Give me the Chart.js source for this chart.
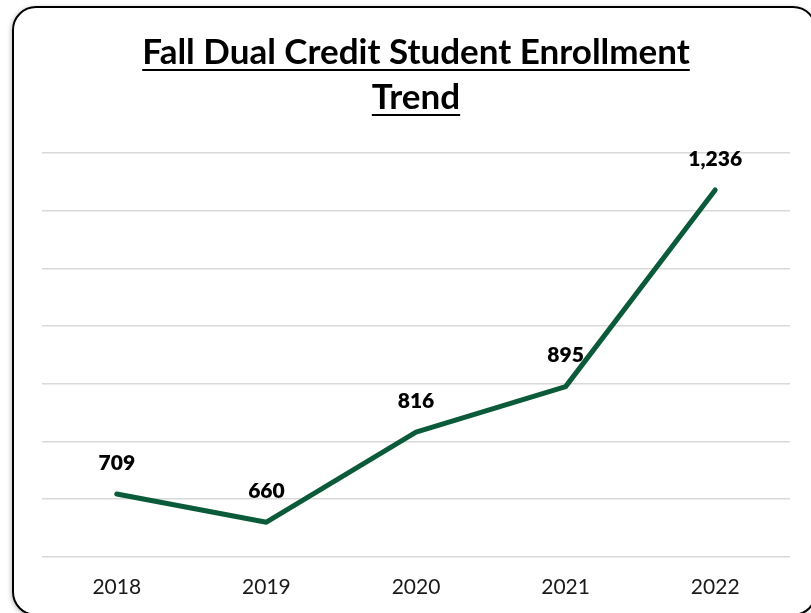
<!DOCTYPE html>
<html>
<head>
<meta charset="utf-8">
<script src="https://cdn.jsdelivr.net/npm/chart.js@4.4.1/dist/chart.umd.min.js"></script>
<style>
  html, body { margin: 0; padding: 0; background: #ffffff; overflow: hidden; }
  #wrap { position: relative; width: 811px; height: 613px; overflow: hidden; }
  #chart { position: absolute; left: 0; top: 0; }
  #frame {
    position: absolute; left: 12px; top: 6px; width: 801px; height: 606px;
    border: 2px solid #000; border-radius: 24px;
    box-shadow: -1px 1px 4px rgba(0,0,0,0.25);
    pointer-events: none;
  }
  #title {
    position: absolute; left: 16px; width: 800px; top: 28px;
    text-align: center; font-family: Lato, "Open Sans", sans-serif;
    font-weight: 700; font-size: 35px; line-height: 45px; color: #000;
    text-decoration: underline; text-decoration-thickness: 2px; text-underline-offset: 5px;
  }
</style>
</head>
<body>
<div id="wrap">
  <canvas id="chart" width="811" height="640"></canvas>
  <div id="frame"></div>
  <div id="title">Fall Dual Credit Student Enrollment<br>Trend</div>
</div>
<script>
// Fall dual credit enrollment, by year
const years = ['2018', '2019', '2020', '2021', '2022'];
const enrollment = [709, 660, 816, 895, 1236];

// Writes each value above its point
const valueLabels = {
  id: 'valueLabels',
  afterDatasetsDraw(chart) {
    const ctx = chart.ctx;
    const meta = chart.getDatasetMeta(0);
    ctx.save();
    ctx.font = '800 21px Lato, "Open Sans", sans-serif';
    ctx.fillStyle = '#000';
    ctx.textAlign = 'center';
    ctx.textBaseline = 'middle';
    meta.data.forEach((pt, i) => {
      ctx.fillText(enrollment[i].toLocaleString('en-US'), pt.x, pt.y - 31);
    });
    ctx.restore();
  }
};

new Chart(document.getElementById('chart'), {
  type: 'line',
  data: {
    labels: years,
    datasets: [{
      data: enrollment,
      borderColor: '#0b5a3a',
      borderWidth: 5,
      tension: 0,
      pointRadius: 0,
      borderCapStyle: 'round',
      borderJoinStyle: 'round',
      fill: false
    }]
  },
  options: {
    responsive: false,
    animation: false,
    layout: { padding: { left: 42, right: 21, top: 153, bottom: 22 } },
    plugins: {
      legend: { display: false },
      tooltip: { enabled: false },
      title: { display: false }
    },
    scales: {
      x: {
        offset: true,
        grid: { display: false, drawTicks: false },
        border: { display: false },
        ticks: {
          padding: 18,
          color: '#1a1a1a',
          font: { family: 'Lato, "Open Sans", sans-serif', size: 21 }
        }
      },
      y: {
        min: 600,
        max: 1300,
        ticks: { display: false, stepSize: 100 },
        grid: { color: '#d9d9d9', lineWidth: 1.5, drawTicks: false },
        border: { display: false }
      }
    }
  },
  plugins: [valueLabels]
});
</script>
</body>
</html>
